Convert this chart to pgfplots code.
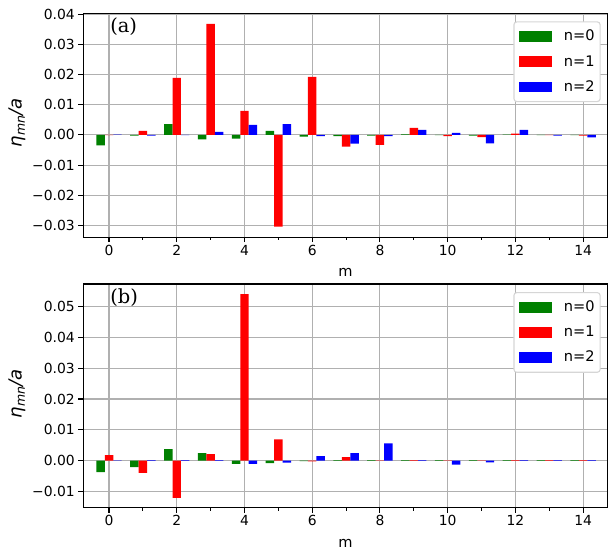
\documentclass[border=0pt]{standalone}
\usepackage{fontspec}
\setmainfont{DejaVu Sans}
\newfontfamily\serifa{DejaVu Serif}
\usepackage{pgfplots}
\pgfplotsset{compat=1.18}
\definecolor{mplgreen}{RGB}{0,128,0}
\definecolor{mplred}{RGB}{255,0,0}
\definecolor{mplblue}{RGB}{0,0,255}
\definecolor{gridgray}{RGB}{176,176,176}
\definecolor{legframe}{RGB}{214,214,214}

\pgfplotsset{
  mybar/.style={ybar, bar width=0.25, draw=none,
    legend image code/.code={\fill[##1, draw=none, sharp corners] (0pt,-3.85pt) rectangle (23.2pt,3.85pt);}},
  panel/.style={
    scale only axis, width=377.4pt, height=161.2pt,
    xmin=-0.76, xmax=14.72,
    xtick={0,2,4,6,8,10,12,14}, xticklabels={0,2,4,6,8,10,12,14},
    minor xtick={1,3,5,7,9,11,13},
    tick pos=left, tick align=outside,
    major tick length=3.5pt, minor tick length=2pt,
    tick style={black, line width=0.8pt},
    minor tick style={black, line width=0.6pt},
    axis line style={line width=0.8pt},
    xmajorgrids, ymajorgrids,
    major grid style={gridgray, line width=0.8pt},
    scaled y ticks=false,
    tick label style={font=\fontsize{10}{12}\selectfont},
    xticklabel style={inner sep=0pt, text height=7.3pt, text depth=0pt, anchor=north, yshift=-2pt},
    yticklabel style={inner sep=0pt, anchor=east, xshift=-2.5pt},
    xlabel={m},
    xlabel style={at={(axis description cs:0.5,-0.1773)}, anchor=base, inner sep=0pt, font=\fontsize{10.5}{12}\selectfont},
    ylabel={\textit{η}\raisebox{-2.2pt}{\fontsize{9}{10}\selectfont\textit{mn}}\textit{/a}},
    ylabel style={at={(axis description cs:-0.1265,0.51)}, anchor=center, font=\fontsize{13}{15}\selectfont},
    legend cell align=left,
    legend style={at={(axis description cs:0.987,0.964)}, anchor=north east,
      draw=legframe, line width=0.8pt, rounded corners=2pt, fill=white,
      inner xsep=3.9pt, inner ysep=5.9pt, row sep=8.9pt,
      nodes={inner sep=0pt}, font=\fontsize{10.5}{12}\selectfont,
      /tikz/every odd column/.append style={column sep=8.9pt}},
  }
}

\begin{document}
\begin{tikzpicture}
\useasboundingbox (0,0) rectangle (437.76pt,-393.12pt);

\begin{axis}[panel, at={(59.98pt,-9.58pt)}, anchor=north west,
  ymin=-0.0339, ymax=0.0403,
  ytick={-0.03,-0.02,-0.01,0,0.01,0.02,0.03,0.04},
  yticklabels={−0.03,−0.02,−0.01,0.00,0.01,0.02,0.03,0.04}]
\addplot[mybar, bar shift=-0.25, fill=mplgreen] coordinates {
 (0,-0.0035) (1,-0.0002) (2,0.0036) (3,-0.0015) (4,-0.0012) (5,0.0013) (6,-0.0006) (7,-0.0004)
 (8,-0.0002) (9,0.0002) (10,-0.0001) (11,-0.0002) (12,0.0001) (13,-0.0001) (14,-0.0001)};
\addlegendentry{n=0\hspace{1.5pt}}
\addplot[mybar, bar shift=0, fill=mplred] coordinates {
 (0,-0.0001) (1,0.0013) (2,0.0189) (3,0.0368) (4,0.0080) (5,-0.0304) (6,0.0192) (7,-0.0039)
 (8,-0.0033) (9,0.0023) (10,-0.0004) (11,-0.0007) (12,0.0004) (13,-0.0001) (14,-0.0002)};
\addlegendentry{n=1\hspace{1.5pt}}
\addplot[mybar, bar shift=0.25, fill=mplblue] coordinates {
 (0,0.0001) (1,-0.0002) (2,-0.0001) (3,0.0010) (4,0.0033) (5,0.0036) (6,-0.0004) (7,-0.0029)
 (8,-0.0004) (9,0.0017) (10,0.0007) (11,-0.0028) (12,0.0017) (13,-0.0002) (14,-0.0008)};
\addlegendentry{n=2\hspace{1.5pt}}
\node[anchor=west, inner sep=0pt, font=\serifa\fontsize{14}{16}\selectfont] at (rel axis cs:0.051,0.941) {(a)};
\end{axis}

\begin{axis}[panel, at={(59.98pt,-204.48pt)}, anchor=north west,
  ymin=-0.0154, ymax=0.0574,
  ytick={-0.01,0,0.01,0.02,0.03,0.04,0.05},
  yticklabels={−0.01,0.00,0.01,0.02,0.03,0.04,0.05}]
\addplot[mybar, bar shift=-0.25, fill=mplgreen] coordinates {
 (0,-0.0038) (1,-0.0021) (2,0.0037) (3,0.0024) (4,-0.0011) (5,-0.0008) (6,-0.0002) (7,0.0001)
 (8,0.0001) (9,0.0001) (10,0.0001) (11,0.0001) (12,0.0001) (13,0.0001) (14,0.0001)};
\addlegendentry{n=0\hspace{1.5pt}}
\addplot[mybar, bar shift=0, fill=mplred] coordinates {
 (0,0.0018) (1,-0.0040) (2,-0.0121) (3,0.0021) (4,0.0541) (5,0.0069) (6,-0.0003) (7,0.0011)
 (8,-0.0001) (9,0.0001) (10,-0.0001) (11,-0.0001) (12,0.0001) (13,0.0001) (14,0.0001)};
\addlegendentry{n=1\hspace{1.5pt}}
\addplot[mybar, bar shift=0.25, fill=mplblue] coordinates {
 (0,-0.0001) (1,0.0001) (2,0.0001) (3,0.0001) (4,-0.0011) (5,-0.0007) (6,0.0014) (7,0.0024)
 (8,0.0056) (9,0.0001) (10,-0.0013) (11,-0.0006) (12,0.0001) (13,0.0001) (14,0.0001)};
\addlegendentry{n=2\hspace{1.5pt}}
\node[anchor=west, inner sep=0pt, font=\serifa\fontsize{14}{16}\selectfont] at (rel axis cs:0.051,0.941) {(b)};
\end{axis}
\end{tikzpicture}
\end{document}
